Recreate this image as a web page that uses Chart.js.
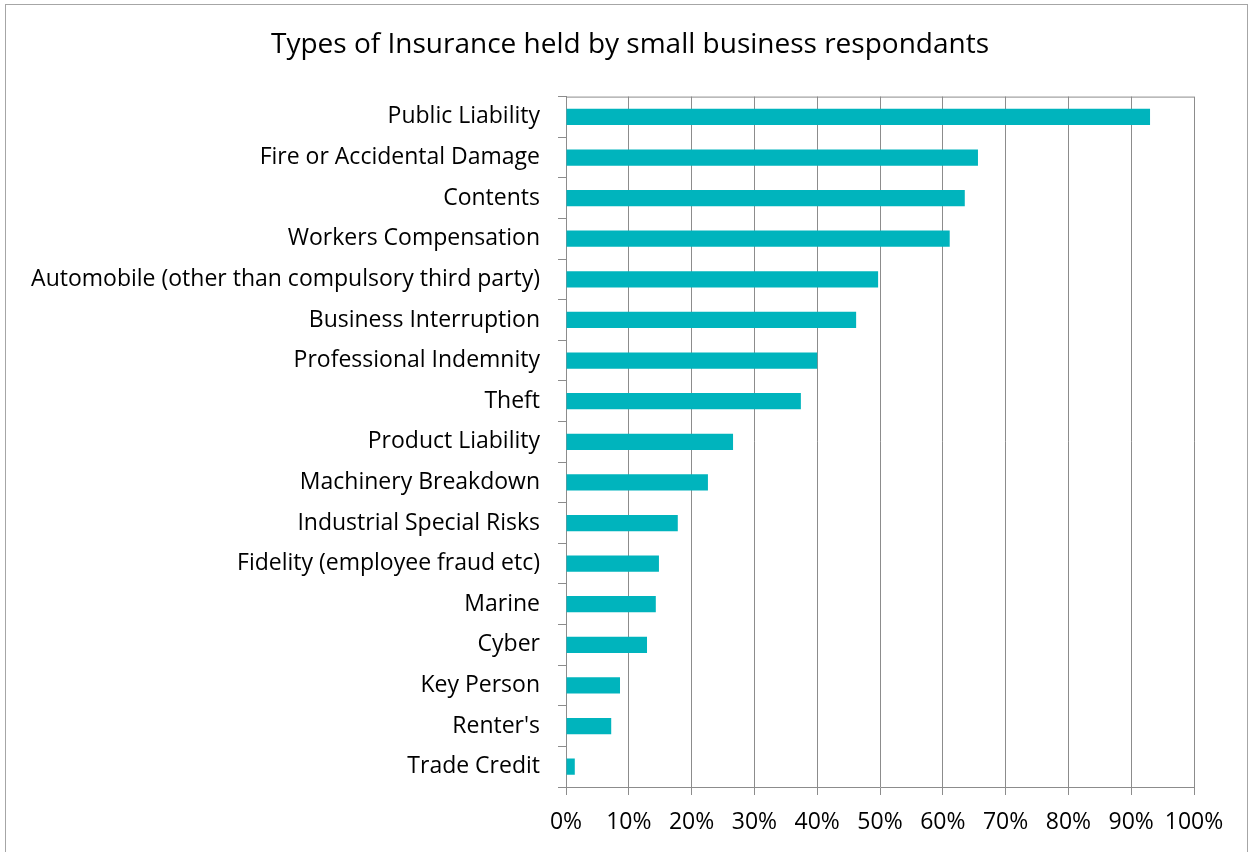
<!DOCTYPE html>
<html>
<head>
<meta charset="utf-8">
<script src="https://cdn.jsdelivr.net/npm/chart.js@4"></script>
<style>
  html, body { margin: 0; padding: 0; background: #fff; overflow: hidden; }
  #wrap {
    position: absolute; left: 5px; top: 4px;
    width: 1243px; height: 860px;
    border: 1px solid #a6a6a6; box-sizing: border-box;
  }
  #chart { display: block; }
</style>
</head>
<body>
<div id="wrap"><canvas id="chart" width="1241" height="858"></canvas></div>
<script>
(function(){
    'use strict';

    // ---- data ----
    var categories = [
        'Public Liability',
        'Fire or Accidental Damage',
        'Contents',
        'Workers Compensation',
        'Automobile (other than compulsory third party)',
        'Business Interruption',
        'Professional Indemnity',
        'Theft',
        'Product Liability',
        'Machinery Breakdown',
        'Industrial Special Risks',
        'Fidelity (employee fraud etc)',
        'Marine',
        'Cyber',
        'Key Person',
        "Renter's",
        'Trade Credit'
    ];
    var shareHeld = [93.0, 65.6, 63.5, 61.1, 49.7, 46.2, 40.0, 37.4, 26.6, 22.6, 17.8, 14.8, 14.3, 12.9, 8.6, 7.2, 1.4];
    var xTickMax = 100;
    var xTickStep = 10;

    var FONT = '"Open Sans", Lato, sans-serif';

    var ctx = document.getElementById('chart');

    new Chart(ctx, {
        type: 'bar',
        data: {
            labels: categories,
            datasets: [{
                data: shareHeld,
                backgroundColor: '#00b4bd',
                borderWidth: 0,
                barPercentage: 0.4,
                categoryPercentage: 1.0
            }]
        },
        options: {
            indexAxis: 'y',
            responsive: false,
            animation: false,
            layout: { padding: { left: 0, right: 53, top: 0, bottom: 0 } },
            plugins: {
                legend: { display: false },
                tooltip: { enabled: false },
                title: {
                    display: true,
                    text: 'Types of Insurance held by small business respondants',
                    color: '#000',
                    font: { family: FONT, size: 28, weight: 'normal' },
                    padding: { top: 23, bottom: 35 }
                }
            },
            scales: {
                x: {
                    min: 0,
                    max: xTickMax,
                    ticks: {
                        stepSize: xTickStep,
                        color: '#000',
                        padding: 14,
                        maxRotation: 0,
                        font: { family: FONT, size: 23 },
                        callback: function(v) { return v + '%'; }
                    },
                    grid: { color: '#8c8c8c', lineWidth: 1, tickLength: 8 },
                    border: { color: '#8c8c8c' },
                    afterFit: function(scale) { scale.height = 76; }
                },
                y: {
                    ticks: {
                        color: '#000',
                        padding: 18,
                        font: { family: FONT, size: 23 }
                    },
                    grid: { drawOnChartArea: false, color: '#8c8c8c', tickLength: 8, offset: true },
                    border: { color: '#8c8c8c' },
                    afterFit: function(scale) { scale.width = 560; }
                }
            }
        },
        plugins: [{
            // nudge the title centre to the right, like the original
            id: 'titleShift',
            afterLayout: function(chart) {
                if (chart.titleBlock) chart.titleBlock.left = 60;
            }
        }, {
            id: 'plotBorder',
            afterDraw: function(chart) {
                var a = chart.chartArea, c = chart.ctx;
                c.save();
                c.strokeStyle = '#8c8c8c';
                c.lineWidth = 1;
                c.beginPath();
                c.moveTo(a.left, a.top + 0.5);
                c.lineTo(a.right, a.top + 0.5);
                c.stroke();
                c.restore();
            }
        }]
    });
})();
</script>
</body>
</html>
